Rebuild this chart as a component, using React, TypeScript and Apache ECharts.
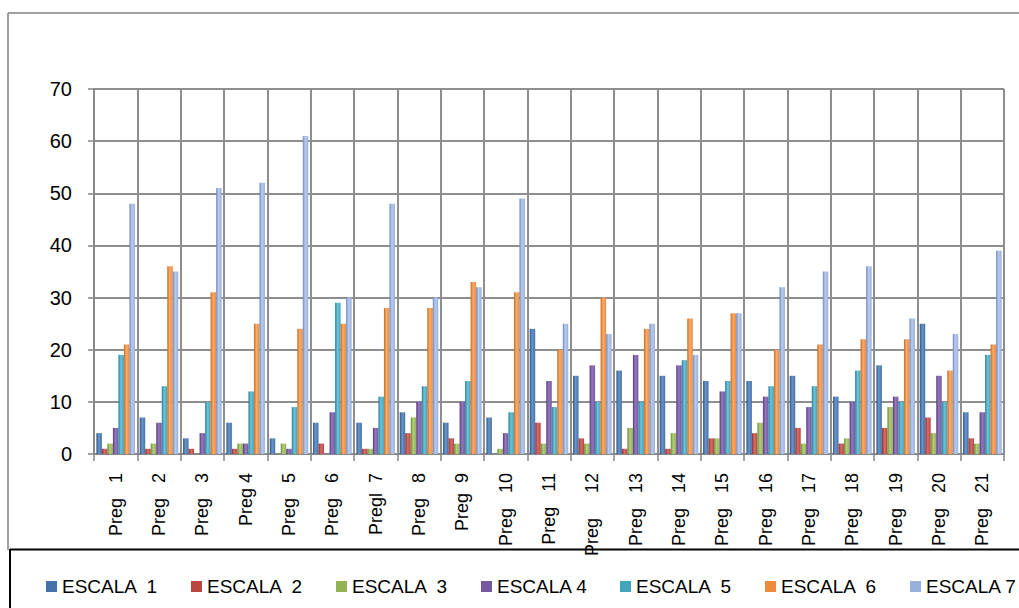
import React, { useEffect, useRef } from "react";
import * as echarts from "echarts";

const categories = [
  "Preg   1", "Preg   2", "Preg   3", "Preg 4", "Preg   5", "Preg   6", "Pregl  7",
  "Preg   8", "Preg  9", "Preg   10", "Preg   11", "Preg     12", "Preg   13", "Preg   14",
  "Preg   15", "Preg   16", "Preg   17", "Preg   18", "Preg   19", "Preg   20", "Preg   21",
];

const seriesNames = [
  "ESCALA  1", "ESCALA  2", "ESCALA  3", "ESCALA 4", "ESCALA  5", "ESCALA  6", "ESCALA 7",
];

const escala1 = [4, 7, 3, 6, 3, 6, 6, 8, 6, 7, 24, 15, 16, 15, 14, 14, 15, 11, 17, 25, 8];
const escala2 = [1, 1, 1, 1, 0, 2, 1, 4, 3, 0, 6, 3, 1, 1, 3, 4, 5, 2, 5, 7, 3];
const escala3 = [2, 2, 0, 2, 2, 0, 1, 7, 2, 1, 2, 2, 5, 4, 3, 6, 2, 3, 9, 4, 2];
const escala4 = [5, 6, 4, 2, 1, 8, 5, 10, 10, 4, 14, 17, 19, 17, 12, 11, 9, 10, 11, 15, 8];
const escala5 = [19, 13, 10, 12, 9, 29, 11, 13, 14, 8, 9, 10, 10, 18, 14, 13, 13, 16, 10, 10, 19];
const escala6 = [21, 36, 31, 25, 24, 25, 28, 28, 33, 31, 20, 30, 24, 26, 27, 20, 21, 22, 22, 16, 21];
const escala7 = [48, 35, 51, 52, 61, 30, 48, 30, 32, 49, 25, 23, 25, 19, 27, 32, 35, 36, 26, 23, 39];

const seriesValues = [escala1, escala2, escala3, escala4, escala5, escala6, escala7];

const yTicks = { min: 0, max: 70, interval: 10 };

const baseColors = ["#4472AA", "#BA4642", "#92B254", "#7558A0", "#43A4BE", "#EE8A3C", "#98B0DC"];
const darkColors = ["#2E5685", "#8E2F2C", "#6C8A37", "#553C7A", "#2C7F94", "#C76A22", "#7189BA"];
const lightColors = ["#6A95C9", "#D46E6A", "#B2CE7C", "#9478BE", "#6BC3DA", "#F9AC6C", "#B9CCEE"];

const legendLefts = [41, 186, 331, 476, 615, 760, 905];

const FONT = "'Liberation Sans', Arial, sans-serif";

export default function App() {
  const ref = useRef<HTMLDivElement>(null);

  useEffect(() => {
    document.body.style.margin = "0";
    document.body.style.overflow = "hidden";
    if (!ref.current) return;
    const chart = echarts.init(ref.current, undefined, { renderer: "svg" });

    const series = seriesNames.map((name, i) => ({
      name,
      type: "bar" as const,
      data: seriesValues[i],
      barGap: "0%",
      barCategoryGap: "11%",
      itemStyle: {
        color: {
          type: "linear",
          x: 0, y: 0, x2: 1, y2: 0,
          colorStops: [
            { offset: 0, color: darkColors[i] },
            { offset: 0.45, color: lightColors[i] },
            { offset: 1, color: baseColors[i] },
          ],
        },
      },
    }));

    const legends = seriesNames.map((name, i) => ({
      data: [{ name, itemStyle: { color: baseColors[i] } }],
      left: legendLefts[i],
      top: 572,
      orient: "horizontal" as const,
      itemWidth: 11,
      itemHeight: 11,
      itemGap: 0,
      icon: "rect",
      textStyle: { fontFamily: FONT, fontSize: 19, color: "#000" },
      selectedMode: false,
    }));

    chart.setOption({
      animation: false,
      backgroundColor: "#fff",
      textStyle: { fontFamily: FONT },
      grid: { left: 94, right: 15, top: 89, bottom: 154, containLabel: false },
      legend: legends,
      xAxis: {
        type: "category",
        data: categories,
        boundaryGap: true,
        axisLine: { show: true, lineStyle: { color: "#868686", width: 1.5 } },
        axisTick: { show: true, length: 7, interval: 0, lineStyle: { color: "#868686", width: 1.5 } },
        splitLine: { show: true, interval: 0, lineStyle: { color: "#8E8E8E", width: 2 } },
        axisLabel: {
          interval: 0,
          rotate: 90,
          margin: 19,
          fontSize: 18,
          fontFamily: FONT,
          color: "#000",
        },
      },
      yAxis: {
        type: "value",
        min: yTicks.min,
        max: yTicks.max,
        interval: yTicks.interval,
        axisLine: { show: true, lineStyle: { color: "#868686", width: 1.5 } },
        axisTick: { show: true, length: 6, lineStyle: { color: "#868686", width: 1.5 } },
        splitLine: { show: true, lineStyle: { color: "#8E8E8E", width: 2 } },
        axisLabel: { margin: 22, fontSize: 20, fontFamily: FONT, color: "#000" },
      },
      graphic: [
        { type: "line", shape: { x1: 8, y1: 13, x2: 1019, y2: 13 }, style: { stroke: "#808080", lineWidth: 1.5 } },
        { type: "line", shape: { x1: 8, y1: 13, x2: 8, y2: 550 }, style: { stroke: "#808080", lineWidth: 1.5 } },
        { type: "line", shape: { x1: 10, y1: 549.5, x2: 1019, y2: 549.5 }, style: { stroke: "#000", lineWidth: 2 } },
        { type: "line", shape: { x1: 10, y1: 549, x2: 10, y2: 608 }, style: { stroke: "#000", lineWidth: 2 } },
      ],
      series,
    });

    return () => chart.dispose();
  }, []);

  return <div ref={ref} style={{ width: 1019, height: 608 }} />;
}
